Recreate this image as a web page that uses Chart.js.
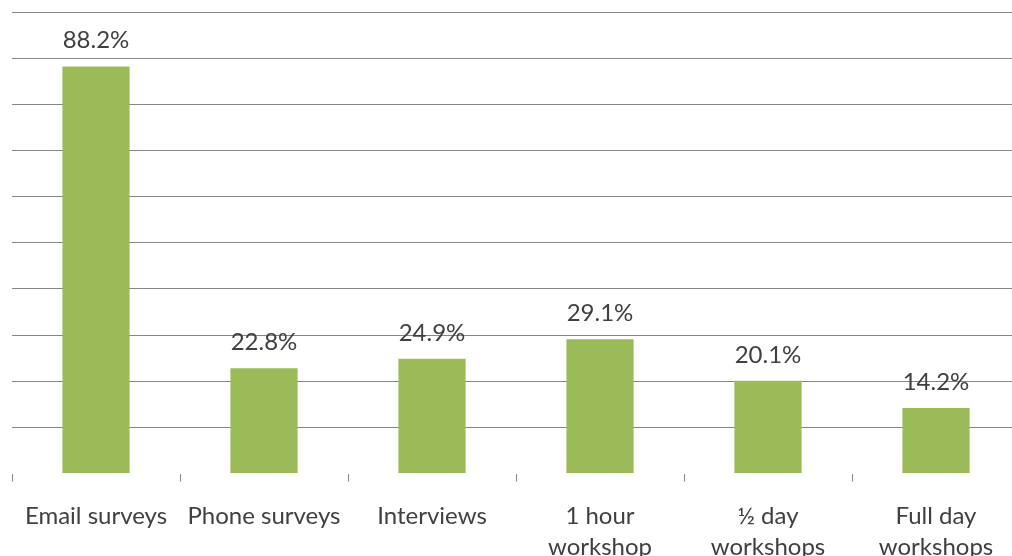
<!DOCTYPE html>
<html>
<head>
<meta charset="utf-8">
<script src="https://cdn.jsdelivr.net/npm/chart.js@4"></script>
<style>
  html, body { margin: 0; padding: 0; background: #fff; }
  #frame { width: 1012px; height: 556px; overflow: hidden; position: relative; }
  #holder { width: 1020px; height: 582px; position: absolute; left: 0; top: 0; }
</style>
</head>
<body>
<div id="frame">
  <div id="holder"><canvas id="methodChart"></canvas></div>
</div>
<script>
// Категорії та значення (%)
const methods = [
  ['Email surveys'],
  ['Phone surveys'],
  ['Interviews'],
  ['1 hour', 'workshop'],
  ['½ day', 'workshops'],
  ['Full day', 'workshops']
];
const shares = [88.2, 22.8, 24.9, 29.1, 20.1, 14.2];

const textColor = '#404040';
const fontFamily = 'Lato, "Open Sans", sans-serif';

// Підписи над стовпчиками
const barValueLabels = {
  id: 'barValueLabels',
  afterDatasetsDraw(chart) {
    const ctx = chart.ctx;
    const meta = chart.getDatasetMeta(0);
    ctx.save();
    ctx.font = '24px ' + fontFamily;
    ctx.fillStyle = textColor;
    ctx.textAlign = 'center';
    ctx.textBaseline = 'alphabetic';
    meta.data.forEach((bar, i) => {
      const v = chart.data.datasets[0].data[i];
      ctx.fillText(v.toFixed(1) + '%', bar.x, bar.y - 18);
    });
    ctx.restore();
  }
};

new Chart(document.getElementById('methodChart'), {
  type: 'bar',
  data: {
    labels: methods,
    datasets: [{
      data: shares,
      backgroundColor: '#9BBB59',
      borderWidth: 0,
      categoryPercentage: 1,
      barPercentage: 0.4
    }]
  },
  options: {
    responsive: true,
    maintainAspectRatio: false,
    animation: false,
    layout: { padding: { left: 12, top: 12, right: 0, bottom: 0 } },
    plugins: {
      legend: { display: false },
      tooltip: { enabled: false }
    },
    scales: {
      x: {
        offset: true,
        border: { display: false },
        grid: {
          offset: true,
          drawOnChartArea: false,
          drawTicks: true,
          tickLength: 8,
          color: '#868686'
        },
        ticks: {
          color: textColor,
          padding: 19,
          maxRotation: 0,
          autoSkip: false,
          font: { family: fontFamily, size: 24, lineHeight: 1.3 }
        }
      },
      y: {
        min: 0,
        max: 100,
        border: { display: false },
        grid: {
          drawTicks: false,
          color: (c) => c.tick && c.tick.value === 0 ? 'rgba(0,0,0,0)' : '#868686'
        },
        ticks: { display: false, stepSize: 10 }
      }
    }
  },
  plugins: [barValueLabels]
});
</script>
</body>
</html>
